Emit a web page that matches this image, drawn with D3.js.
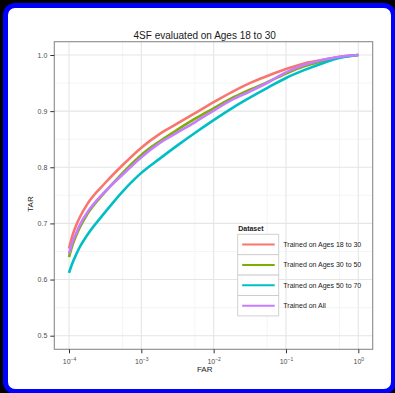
<!DOCTYPE html>
<html>
<head>
<meta charset="utf-8">
<script src="https://cdn.jsdelivr.net/npm/d3@7"></script>
<style>
  body { margin: 0; background: #000; width: 395px; height: 393px; overflow: hidden; position: relative; }
  .frame { position: absolute; left: 3px; top: 3px; width: 383px; height: 381px; border: 5px solid #0000ff; border-radius: 12px; background: #fff; }
  #chart { position: absolute; left: 0; top: 0; font-family: "Liberation Sans", Arial, sans-serif; }
</style>
</head>
<body>
<div class="frame"></div>
<svg id="chart" width="395" height="393"></svg>
<script>
// FAR sample points (x) and TAR per training set (y)
const farValues = [1e-4, 1.12e-4, 1.26e-4, 1.41e-4, 1.78e-4, 3.16e-4, 5.62e-4, 1e-3, 1.78e-3, 3.16e-3, 5.62e-3,
                   1e-2, 1.78e-2, 3.16e-2, 5.62e-2, 0.1, 0.178, 0.316, 0.562, 1];
const tar18to30 = [0.655, 0.679, 0.697, 0.711, 0.734, 0.772, 0.805, 0.835, 0.859, 0.878, 0.897,
                   0.916, 0.934, 0.950, 0.963, 0.975, 0.985, 0.991, 0.997, 1.0];
const tar30to50 = [0.640, 0.662, 0.679, 0.693, 0.716, 0.756, 0.791, 0.822, 0.846, 0.867, 0.887,
                   0.905, 0.923, 0.938, 0.952, 0.967, 0.980, 0.989, 0.996, 1.0];
const tar50to70 = [0.612, 0.630, 0.645, 0.658, 0.679, 0.720, 0.758, 0.790, 0.815, 0.839, 0.862,
                   0.884, 0.905, 0.924, 0.942, 0.959, 0.973, 0.985, 0.995, 1.0];
const tarAll    = [0.646, 0.667, 0.683, 0.697, 0.719, 0.757, 0.788, 0.818, 0.843, 0.862, 0.881,
                   0.901, 0.920, 0.935, 0.951, 0.969, 0.982, 0.991, 0.997, 1.0];

const seriesNames = ["Trained on Ages 18 to 30", "Trained on Ages 30 to 50", "Trained on Ages 50 to 70", "Trained on All"];
const seriesValues = [tar18to30, tar30to50, tar50to70, tarAll];
const colors = ["#F8766D", "#7CAE00", "#00BFC4", "#C77CFF"];

const xTicks = [1e-4, 1e-3, 1e-2, 1e-1, 1];
const xMinor = [5.5e-4, 5.5e-3, 5.5e-2, 5.5e-1];
const yTicks = [0.5, 0.6, 0.7, 0.8, 0.9, 1.0];
const yMinor = [0.55, 0.65, 0.75, 0.85, 0.95];

const panel = { left: 54.3, right: 372.7, top: 41.7, bottom: 349.3 };

const svg = d3.select("#chart");

const x = d3.scaleLog().domain([1e-4, 1]).range([69, 358.3]);
const y = d3.scaleLinear().domain([0.5, 1.0]).range([335.7, 55]);

// panel background + grid
svg.append("rect")
    .attr("x", panel.left).attr("y", panel.top)
    .attr("width", panel.right - panel.left).attr("height", panel.bottom - panel.top)
    .attr("fill", "#fff");

const grid = svg.append("g");
grid.selectAll(".vminor").data(xMinor).enter().append("line")
    .attr("x1", d => x(d)).attr("x2", d => x(d))
    .attr("y1", panel.top).attr("y2", panel.bottom)
    .attr("stroke", "#f3f3f3").attr("stroke-width", 0.8);
grid.selectAll(".hminor").data(yMinor).enter().append("line")
    .attr("x1", panel.left).attr("x2", panel.right)
    .attr("y1", d => y(d)).attr("y2", d => y(d))
    .attr("stroke", "#f3f3f3").attr("stroke-width", 0.8);
grid.selectAll(".vmajor").data(xTicks).enter().append("line")
    .attr("x1", d => x(d)).attr("x2", d => x(d))
    .attr("y1", panel.top).attr("y2", panel.bottom)
    .attr("stroke", "#e5e5e5").attr("stroke-width", 1.1);
grid.selectAll(".hmajor").data(yTicks).enter().append("line")
    .attr("x1", panel.left).attr("x2", panel.right)
    .attr("y1", d => y(d)).attr("y2", d => y(d))
    .attr("stroke", "#e5e5e5").attr("stroke-width", 1.1);

// curves
const line = d3.line()
    .x((d, i) => x(farValues[i]))
    .y(d => y(d))
    .curve(d3.curveMonotoneX);

svg.append("g").selectAll("path")
    .data(seriesValues)
    .enter().append("path")
    .attr("d", line)
    .attr("fill", "none")
    .attr("stroke", (d, i) => colors[i])
    .attr("stroke-width", 2.6)
    .attr("stroke-linejoin", "round");

// panel border
svg.append("rect")
    .attr("x", panel.left).attr("y", panel.top)
    .attr("width", panel.right - panel.left).attr("height", panel.bottom - panel.top)
    .attr("fill", "none").attr("stroke", "#8a8a8a").attr("stroke-width", 1.1);

// axes
const yAxis = svg.append("g")
    .attr("transform", `translate(${panel.left},0)`)
    .call(d3.axisLeft(y).tickValues(yTicks).tickSize(4).tickPadding(3).tickFormat(d3.format(".1f")));
yAxis.select(".domain").remove();
yAxis.selectAll(".tick line").attr("stroke", "#333");
yAxis.selectAll(".tick text")
    .style("font-family", "Liberation Sans, Arial, sans-serif")
    .style("font-size", "7px").attr("fill", "#4d4d4d");

const xAxis = svg.append("g")
    .attr("transform", `translate(0,${panel.bottom})`)
    .call(d3.axisBottom(x).tickValues(xTicks).tickSize(4).tickFormat(""));
xAxis.select(".domain").remove();
xAxis.selectAll(".tick line").attr("stroke", "#333");
xAxis.selectAll(".tick").append("text")
    .attr("y", 15)
    .attr("text-anchor", "middle")
    .style("font-family", "Liberation Sans, Arial, sans-serif")
    .attr("fill", "#4d4d4d")
    .each(function (d) {
        const t = d3.select(this);
        const p = Math.round(Math.log10(d));
        t.append("tspan").style("font-size", "7px").text("10");
        t.append("tspan").style("font-size", "5px").attr("dy", -3)
            .text(p < 0 ? "\u2212" + Math.abs(p) : "0");
    });

// titles
svg.append("text")
    .attr("x", 204.7).attr("y", 38.5)
    .attr("text-anchor", "middle")
    .style("font-size", "10px").attr("fill", "#1a1a1a")
    .text("4SF evaluated on Ages 18 to 30");

svg.append("text")
    .attr("x", 204.7).attr("y", 372)
    .attr("text-anchor", "middle")
    .style("font-size", "8px").attr("fill", "#1a1a1a")
    .text("FAR");

svg.append("text")
    .attr("transform", "translate(33,204) rotate(-90)")
    .attr("text-anchor", "middle")
    .style("font-size", "8px").attr("fill", "#1a1a1a")
    .text("TAR");

// legend
const legend = svg.append("g").attr("transform", "translate(237.7,234.3)");
legend.append("text")
    .attr("x", 0.5).attr("y", -3)
    .style("font-size", "7px").style("font-weight", "bold").attr("fill", "#1a1a1a")
    .text("Dataset");

const keyH = 20.4, keyW = 41;
const keys = legend.selectAll(".key").data(seriesNames).enter().append("g")
    .attr("transform", (d, i) => `translate(0,${i * keyH})`);
keys.append("rect")
    .attr("width", keyW).attr("height", keyH)
    .attr("fill", "#fff").attr("stroke", "#cccccc").attr("stroke-width", 0.9);
keys.append("line")
    .attr("x1", 4.5).attr("x2", keyW - 4)
    .attr("y1", keyH / 2).attr("y2", keyH / 2)
    .attr("stroke", (d, i) => colors[i]).attr("stroke-width", 2);
keys.append("text")
    .attr("x", keyW + 4.6).attr("y", keyH / 2 + 2.5)
    .style("font-size", "7px").attr("fill", "#1a1a1a")
    .text(d => d);
</script>
</body>
</html>
